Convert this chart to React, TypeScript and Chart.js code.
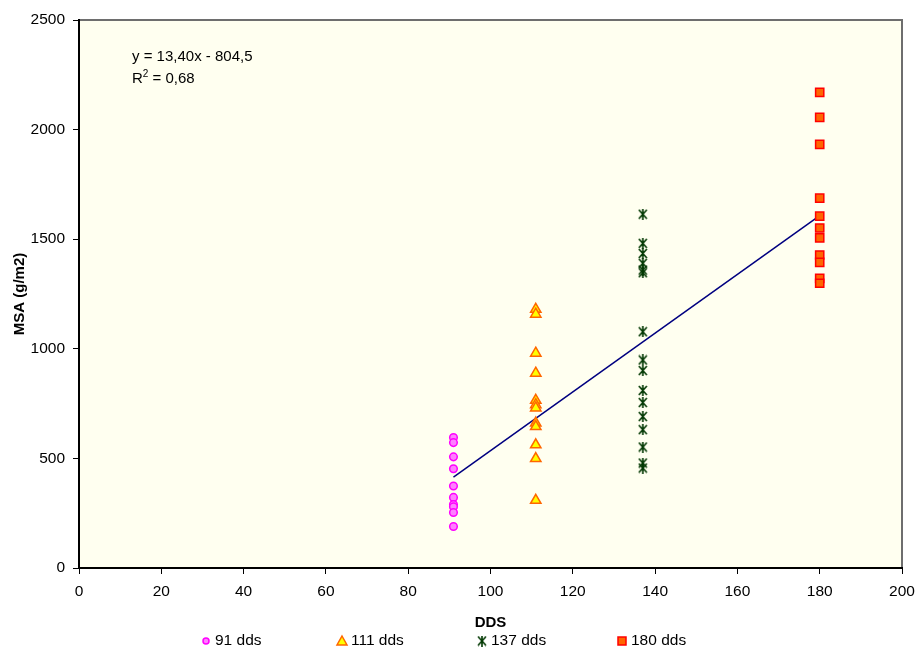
import React, { useEffect, useRef } from "react";
import { Chart, registerables } from "chart.js";

Chart.register(...registerables);

// Days after sowing (dds) for each sampling date
const seriesLabels = ["91 dds", "111 dds", "137 dds", "180 dds"];
const ddsValues = [91, 111, 137, 180];

// Above-ground dry matter (MSA, g/m2) of each plot, per sampling date
const msa91 = [595, 572, 507, 453, 374, 322, 290, 279, 253, 189];
const msa111 = [1180, 1158, 980, 889, 765, 745, 730, 661, 645, 562, 499, 309];
const msa137 = [1614, 1481, 1435, 1390, 1359, 1347, 1078, 949, 901, 810, 755, 691, 631, 552, 479, 456];
const msa180 = [2170, 2056, 1933, 1687, 1605, 1551, 1506, 1428, 1394, 1321, 1299];

// Linear fit over all sampling dates
const slope = 13.4;
const intercept = -804.5;
const rSquared = 0.68;

// Axis ticks
const xTicks = [0, 20, 40, 60, 80, 100, 120, 140, 160, 180, 200];
const yTicks = [0, 500, 1000, 1500, 2000, 2500];

const FONT = "'Liberation Sans', Arial, sans-serif";

const comma = (v: number, d: number) => v.toFixed(d).replace(".", ",");

function makeStar(color: string, w: number, h: number): HTMLCanvasElement {
  const c = document.createElement("canvas");
  c.width = w;
  c.height = h;
  const g = c.getContext("2d")!;
  g.strokeStyle = color;
  g.lineWidth = 1.6;
  g.beginPath();
  g.moveTo(1, 1);
  g.lineTo(w - 1, h - 1);
  g.moveTo(w - 1, 1);
  g.lineTo(1, h - 1);
  g.moveTo(w / 2, 0);
  g.lineTo(w / 2, h);
  g.stroke();
  return c;
}

// Plot-area fill and frame (grey top/right edges)
const plotFrame = {
  id: "plotFrame",
  beforeDraw(chart: any) {
    const { ctx, chartArea: a } = chart;
    ctx.save();
    ctx.fillStyle = "#ffffff";
    ctx.fillRect(0, 0, chart.width, chart.height);
    ctx.fillStyle = "#fffff0";
    ctx.fillRect(a.left, a.top, a.right - a.left, a.bottom - a.top);
    ctx.strokeStyle = "#6e6e6e";
    ctx.lineWidth = 2;
    ctx.beginPath();
    ctx.moveTo(a.left, a.top);
    ctx.lineTo(a.right, a.top);
    ctx.lineTo(a.right, a.bottom);
    ctx.stroke();
    ctx.restore();
  },
};

// Regression equation in the upper-left corner
const equationLabel = {
  id: "equationLabel",
  afterDraw(chart: any) {
    const { ctx, chartArea: a } = chart;
    ctx.save();
    ctx.fillStyle = "#000";
    ctx.textBaseline = "middle";
    ctx.textAlign = "left";
    ctx.font = `15px ${FONT}`;
    const x = a.left + 53;
    const sign = intercept < 0 ? "-" : "+";
    ctx.fillText(`y = ${comma(slope, 2)}x ${sign} ${comma(Math.abs(intercept), 1)}`, x, a.top + 37);
    const y2 = a.top + 59;
    ctx.fillText("R", x, y2);
    const rw = ctx.measureText("R").width;
    ctx.font = `10px ${FONT}`;
    ctx.fillText("2", x + rw, y2 - 5);
    const sw = ctx.measureText("2").width;
    ctx.font = `15px ${FONT}`;
    ctx.fillText(` = ${comma(rSquared, 2)}`, x + rw + sw, y2);
    ctx.restore();
  },
};

// Legend row below the x-axis title
const legendRow = {
  id: "legendRow",
  afterDraw(chart: any) {
    const { ctx } = chart;
    const centers = [206, 342, 482, 622];
    const y = 641;
    ctx.save();
    ctx.font = `15.5px ${FONT}`;
    ctx.textBaseline = "middle";
    ctx.textAlign = "left";
    chart.data.datasets.forEach((ds: any, i: number) => {
      if (i >= centers.length) return;
      const cx = centers[i];
      ctx.fillStyle = ds.backgroundColor;
      ctx.strokeStyle = ds.borderColor;
      ctx.lineWidth = 1.5;
      const st = ds.pointStyle;
      if (st === "circle") {
        ctx.beginPath();
        ctx.arc(cx, y, 3, 0, Math.PI * 2);
        ctx.fill();
        ctx.stroke();
      } else if (st === "triangle") {
        ctx.beginPath();
        ctx.moveTo(cx, y - 5);
        ctx.lineTo(cx + 5, y + 4);
        ctx.lineTo(cx - 5, y + 4);
        ctx.closePath();
        ctx.fill();
        ctx.stroke();
      } else if (st === "rect") {
        ctx.fillRect(cx - 4, y - 4, 8, 8);
        ctx.strokeRect(cx - 4, y - 4, 8, 8);
      } else if (st instanceof HTMLCanvasElement) {
        ctx.drawImage(st, cx - st.width / 2, y - st.height / 2);
      }
      ctx.fillStyle = "#000";
      ctx.fillText(ds.label, cx + 9, y);
    });
    ctx.restore();
  },
};

export default function App() {
  const ref = useRef<HTMLCanvasElement>(null);

  useEffect(() => {
    document.body.style.margin = "0";
    const star = makeStar("#003800", 10, 11);
    const fitX = [Math.min(...ddsValues), Math.max(...ddsValues)];
    const pts = (x: number, ys: number[]) => ys.map((y) => ({ x, y }));

    const chart = new Chart(ref.current!, {
      type: "scatter",
      data: {
        datasets: [
          {
            label: seriesLabels[0],
            data: pts(ddsValues[0], msa91),
            pointStyle: "circle",
            radius: 3.8,
            backgroundColor: "#ff80ff",
            borderColor: "#ff00ff",
            borderWidth: 1.5,
          },
          {
            label: seriesLabels[1],
            data: pts(ddsValues[1], msa111),
            pointStyle: "triangle",
            radius: 6,
            backgroundColor: "#ffff00",
            borderColor: "#ff6600",
            borderWidth: 1.5,
          },
          {
            label: seriesLabels[2],
            data: pts(ddsValues[2], msa137),
            pointStyle: star as any,
            radius: 5,
            backgroundColor: "#003800",
            borderColor: "#003800",
          },
          {
            label: seriesLabels[3],
            data: pts(ddsValues[3], msa180),
            pointStyle: "rect",
            radius: 5.8,
            backgroundColor: "#ff6600",
            borderColor: "#ff0000",
            borderWidth: 1.5,
          },
          {
            label: "fit",
            type: "line",
            data: fitX.map((x) => ({ x, y: slope * x + intercept })),
            borderColor: "#000080",
            borderWidth: 1.5,
            pointRadius: 0,
            showLine: true,
            fill: false,
          } as any,
        ],
      },
      options: {
        animation: false,
        responsive: false,
        maintainAspectRatio: false,
        layout: { padding: { left: 0, top: 20, right: 14, bottom: 16 } },
        plugins: {
          legend: { display: false },
          tooltip: { enabled: false },
        },
        scales: {
          x: {
            type: "linear",
            min: 0,
            max: 200,
            afterBuildTicks: (s: any) => {
              s.ticks = xTicks.map((v) => ({ value: v }));
            },
            afterFit: (s: any) => {
              s.height = 64;
              s.paddingLeft = 0;
              s.paddingRight = 0;
            },
            border: { display: true, color: "#000", width: 2 },
            grid: { drawOnChartArea: false, drawTicks: true, tickLength: 6, color: "#000", lineWidth: 1 },
            ticks: {
              color: "#000",
              font: { family: FONT, size: 15.5 },
              padding: 8,
              maxRotation: 0,
              callback: (v: any) => String(v),
            },
            title: {
              display: true,
              text: "DDS",
              color: "#000",
              font: { family: FONT, size: 15, weight: "bold" },
              padding: { top: 0, bottom: 0 },
            },
          },
          y: {
            type: "linear",
            min: 0,
            max: 2500,
            afterBuildTicks: (s: any) => {
              s.ticks = yTicks.map((v) => ({ value: v }));
            },
            afterFit: (s: any) => {
              s.width = 79;
              s.paddingTop = 0;
              s.paddingBottom = 0;
            },
            border: { display: true, color: "#000", width: 2 },
            grid: { drawOnChartArea: false, drawTicks: true, tickLength: 6, color: "#000", lineWidth: 1 },
            ticks: {
              color: "#000",
              font: { family: FONT, size: 15.5 },
              padding: 8,
              callback: (v: any) => String(v),
            },
            title: {
              display: true,
              text: "MSA (g/m2)",
              color: "#000",
              font: { family: FONT, size: 15, weight: "bold" },
              padding: { top: 11, bottom: 0 },
            },
          },
        },
      },
      plugins: [plotFrame, equationLabel, legendRow],
    });
    return () => chart.destroy();
  }, []);

  return (
    <div style={{ width: 916, height: 648 }}>
      <canvas ref={ref} width={916} height={648} style={{ display: "block" }} />
    </div>
  );
}
